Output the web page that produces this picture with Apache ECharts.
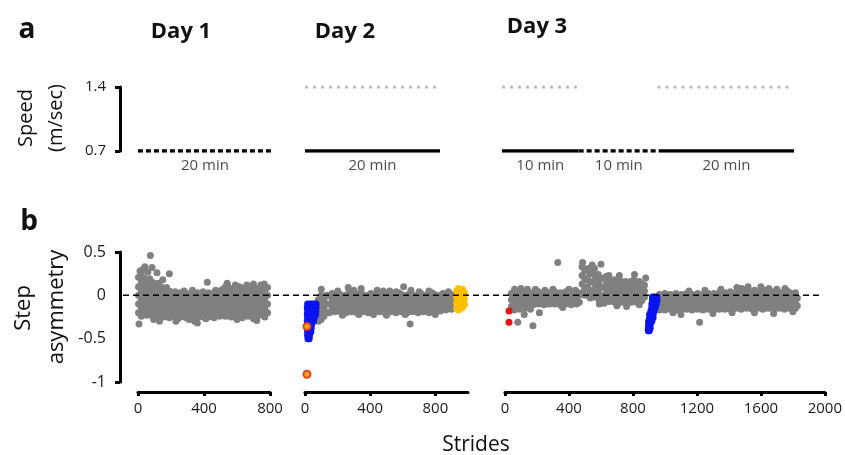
<!DOCTYPE html>
<html>
<head>
<meta charset="utf-8">
<script src="https://cdn.jsdelivr.net/npm/echarts@6/dist/echarts.min.js"></script>
<style>html,body{margin:0;padding:0;background:#fff}#chart{width:845px;height:455px}</style>
</head>
<body>
<div id="chart"></div>
<script>
var FONT = '"Open Sans", sans-serif';

// panel a: belt speed (m/sec), periods in minutes
var speedTicks = [0.7, 1.4];
var slowSpeed = 0.7, fastSpeed = 1.4;
var day1Tied = [[0, 20]];
var day2Slow = [[0, 20]];
var day2Fast = [[0, 20]];
var day3Slow = [[0, 10.5], [21.5, 40]];
var day3Fast = [[0, 11], [21.3, 39.3]];
var day3Tied = [[10.5, 21.5]];
var day1Periods = [[0, 20]], day1PeriodNames = ['20 min'];
var day2Periods = [[0, 20]], day2PeriodNames = ['20 min'];
var day3Periods = [[0, 10.5], [10.5, 21.5], [21.5, 40]], day3PeriodNames = ['10 min', '10 min', '20 min'];

// panel b: step asymmetry, [stride, [values at that stride]]
var asymTicks = [0.5, 0, -0.5, -1];
var zeroRef = 0;
var day1Gray = [
  [3,[0.21,0.1,0,-0.1,-0.2]],[6,[-0.33]],[12,[0.28]],[20,[0.26,0.15,0.05,-0.05,-0.15,-0.24]],
  [30,[0.3]],[37,[0.2,0.1,0.01,-0.1,-0.2]],[42,[0.33]],[54,[0.16,0.05,-0.04,-0.15,-0.23]],[60,[0.27]],
  [71,[0.19,0.1,0,-0.1,-0.19]],[75,[0.46]],[85,[0.32]],[88,[0.15,0.05,-0.05,-0.15,-0.24]],[95,[-0.28]],
  [105,[0.11,0,-0.1,-0.2]],[115,[0.26]],[122,[0.14,0.05,-0.05,-0.15,-0.25]],[130,[-0.3]],
  [139,[0.1,0,-0.1,-0.2]],[150,[0.18]],[156,[0.06,-0.05,-0.15,-0.25]],[173,[0.09,0,-0.1,-0.2]],
  [190,[0.25,0.05,-0.05,-0.15,-0.26]],[207,[0.01,-0.1,-0.2]],[224,[0.04,-0.05,-0.15,-0.25]],[230,[-0.3]],
  [241,[0,-0.1,-0.2,-0.27]],[258,[0.03,-0.05,-0.15,-0.25]],[275,[0,-0.1,-0.2]],[280,[0.05]],
  [292,[0.02,-0.05,-0.15,-0.26]],[309,[0.01,-0.1,-0.2,-0.28]],[326,[-0.05,-0.15,-0.25]],[330,[0.06]],
  [343,[0,-0.1,-0.2,-0.3]],[360,[0.03,-0.05,-0.15,-0.25,-0.32]],[377,[0,-0.1,-0.2]],
  [394,[0.04,-0.05,-0.15,-0.25]],[411,[0.01,-0.1,-0.2,-0.27]],[420,[0.15]],[428,[0.03,-0.05,-0.15,-0.25]],
  [445,[0,-0.1,-0.2]],[462,[0.03,-0.05,-0.15,-0.26]],[470,[0.06]],[479,[0.01,-0.1,-0.2]],
  [496,[0.05,-0.05,-0.15,-0.24]],[513,[0.07,0,-0.1,-0.2]],[530,[0.1,0.05,-0.05,-0.15,-0.24]],[540,[0.14]],
  [547,[0.1,0,-0.1,-0.2]],[564,[0.05,-0.05,-0.15,-0.25]],[581,[0.08,0,-0.1,-0.2]],[590,[0.12]],
  [598,[0.06,-0.05,-0.15,-0.23]],[600,[-0.28]],[615,[0.1,0,-0.1,-0.2]],[632,[0.05,-0.05,-0.15,-0.26]],
  [649,[0.09,0,-0.1,-0.2]],[660,[0.12]],[666,[0.06,-0.05,-0.15,-0.24]],[683,[0.1,0,-0.1,-0.2]],
  [700,[0.13,0.05,-0.05,-0.15,-0.27]],[717,[0.08,0,-0.1,-0.2]],[720,[-0.29]],[734,[0.06,-0.05,-0.15,-0.23]],
  [745,[0.12]],[751,[0.1,0,-0.1,-0.2]],[765,[0.13]],[768,[0.05,-0.05,-0.15,-0.25]],[785,[0.09,0,-0.1,-0.2]]
];
var day2Gray = [
  [82,[-0.05,-0.15,-0.25,-0.3]],[99,[0,-0.1,-0.2,-0.28]],[100,[0.07]],[116,[-0.05,-0.15,-0.24]],
  [133,[0,-0.1,-0.2]],[150,[0,-0.1,-0.2]],[167,[0.02,-0.05,-0.15]],[184,[0,-0.1,-0.19]],
  [201,[0.05,-0.05,-0.15]],[218,[0.01,-0.1,-0.19]],[230,[-0.23]],[235,[-0.05,-0.15]],
  [252,[0,-0.1,-0.2]],[265,[0.09]],[269,[0.03,-0.05,-0.15]],[286,[0,-0.1,-0.19]],
  [300,[0.06]],[303,[-0.05,-0.15]],[320,[0,-0.1,-0.2]],[330,[-0.22]],[337,[0.02,-0.05,-0.15]],
  [345,[0.08]],[354,[0.01,-0.1,-0.19]],[371,[-0.05,-0.15]],[388,[0,-0.1,-0.2]],
  [405,[0.02,-0.05,-0.15]],[420,[-0.22]],[422,[0,-0.1,-0.2]],[439,[0.03,-0.05,-0.15]],[443,[0.06]],
  [456,[0,-0.1,-0.19]],[473,[-0.05,-0.15]],[480,[0.05]],[490,[0.01,-0.1,-0.2]],[500,[-0.23]],
  [507,[0.02,-0.05,-0.15]],[520,[0.05]],[524,[0,-0.1,-0.19]],[541,[-0.05,-0.15]],
  [558,[0,-0.1,-0.2]],[560,[0.04]],[575,[0.03,-0.05,-0.15]],[592,[0.01,-0.1,-0.19]],
  [605,[0.1]],[609,[-0.05,-0.15]],[615,[-0.22]],[626,[0,-0.1,-0.2]],[643,[0.02,-0.05,-0.15]],
  [645,[-0.33]],[650,[0.06]],[660,[0,-0.1,-0.19]],[677,[-0.05,-0.15]],[694,[0.01,-0.1,-0.2]],
  [700,[0.04]],[711,[0.02,-0.05,-0.15]],[728,[0,-0.1,-0.19]],[745,[-0.05,-0.15]],
  [760,[0.05]],[762,[0,-0.1,-0.2]],[779,[0.03,-0.05,-0.15]],[796,[0.01,-0.1,-0.18]],
  [800,[-0.22]],[813,[-0.05,-0.15]],[830,[0,-0.1,-0.18]],[847,[0.02,-0.05,-0.14]],
  [864,[0.01,-0.09,-0.17]],[880,[0.04]],[881,[-0.04,-0.13]],[898,[0.01,-0.08,-0.16]],[915,[-0.03,-0.12]]
];
var day2Blue = [
  [14,[-0.14,-0.22,-0.3,-0.38]],[16,[-0.1,-0.18,-0.26,-0.34,-0.42,-0.46]],[18,[-0.5]],
  [26,[-0.38,-0.5]],[28,[-0.14,-0.22,-0.3,-0.34,-0.42,-0.46]],[30,[-0.1,-0.18,-0.26]],
  [36,[-0.42]],[38,[-0.38]],[40,[-0.34]],[42,[-0.14,-0.22,-0.3]],[44,[-0.1,-0.18,-0.26]],
  [52,[-0.3]],[56,[-0.14,-0.22,-0.26]],[58,[-0.1,-0.18]],[66,[-0.18,-0.22]],[68,[-0.1,-0.14]]
];
var day2Orange = [[12,-0.36],[12,-0.91]];
var day2Yellow = [
  [930,[0.05,-0.02,-0.09,-0.15]],[942,[0.08,0.01,-0.06,-0.13,-0.17]],
  [954,[0.06,-0.01,-0.08,-0.15]],[966,[0.07,0.0,-0.07,-0.14]],[978,[0.03,-0.04,-0.11]]
];
var day3Gray = [
  [40,[0.02,-0.05,-0.13]],[57,[0,-0.09,-0.17]],[60,[0.07]],[74,[0.03,-0.05,-0.13]],[80,[-0.31]],
  [91,[-0.01,-0.09,-0.16]],[100,[0.08]],[108,[0.03,-0.05,-0.12]],[120,[-0.22]],[125,[-0.01,-0.09,-0.15]],
  [140,[0.07]],[142,[0.03,-0.05,-0.11]],[159,[-0.01,-0.09,-0.16]],[175,[-0.35]],[176,[0.03,-0.05,-0.11]],
  [190,[0.07]],[193,[-0.01,-0.09]],[210,[0.04,-0.05,-0.1]],[215,[-0.2]],[227,[-0.01,-0.09]],
  [244,[0.03,-0.05,-0.11]],[250,[0.06]],[261,[0,-0.09]],[278,[0.03,-0.04,-0.1]],[295,[-0.01,-0.09]],
  [300,[0.07]],[312,[0.04,-0.05,-0.1]],[329,[0,-0.08]],[330,[0.38]],[346,[0.03,-0.04,-0.11]],
  [360,[-0.14]],[363,[-0.01,-0.09]],[380,[0.04,-0.05,-0.1]],[397,[0,-0.08]],[400,[0.07]],
  [414,[0.03,-0.04,-0.11]],[431,[-0.01,-0.09]],[440,[0.06]],[448,[0.04,-0.05,-0.1]],[465,[0,-0.08]],
  [482,[0.33,0.23,0.13,0.03]],[485,[0.38]],[499,[0.28,0.18,0.08,0]],[516,[0.3,0.2,0.1,0]],[520,[0.31]],
  [533,[0.25,0.15,0.05,-0.03]],[545,[0.35]],[550,[0.26,0.16,0.06,-0.02]],[560,[0.31]],
  [567,[0.21,0.11,0.01]],[584,[0.24,0.14,0.04,-0.04]],[590,[-0.1]],[600,[0.36]],[601,[0.19,0.09,-0.01]],
  [618,[0.2,0.1,0,-0.06]],[620,[-0.09]],[635,[0.22,0.15,0.05,-0.05]],[650,[0.23]],[652,[0.18,0.1,0,-0.07]],
  [669,[0.15,0.05,-0.05]],[686,[0.18,0.1,0,-0.08]],[700,[-0.12]],[703,[0.15,0.05,-0.05,-0.1]],
  [715,[0.23]],[720,[0.17,0.1,0,-0.08]],[737,[0.15,0.05,-0.05]],[754,[0.16,0.1,0,-0.09]],[760,[-0.13]],
  [771,[0.15,0.05,-0.05]],[788,[0.16,0.1,0,-0.08]],[805,[0.18,0.15,0.05,-0.05]],[810,[0.24]],
  [822,[0.14,0.1,0,-0.08]],[839,[0.16,0.05,-0.05]],[840,[-0.11]],[856,[0.13,0.08,0,-0.06]],
  [872,[0.12,0.05,-0.02]],[880,[0.2]],
  [966,[0.01,-0.08,-0.17]],[983,[-0.03,-0.13]],[1000,[0.02,-0.08,-0.17]],[1017,[-0.03,-0.13]],
  [1034,[0.01,-0.08,-0.16]],[1050,[-0.2]],[1051,[-0.03,-0.13]],[1068,[0.02,-0.08,-0.17]],
  [1085,[-0.03,-0.13]],[1100,[-0.22]],[1102,[0.01,-0.08,-0.17]],[1119,[-0.03,-0.13]],
  [1136,[0.02,-0.08,-0.16]],[1150,[0.05]],[1153,[-0.03,-0.13]],[1170,[0.01,-0.08,-0.17]],
  [1187,[-0.03,-0.13]],[1204,[0.02,-0.08,-0.16]],[1217,[-0.31]],[1221,[-0.03,-0.13]],
  [1238,[0.01,-0.08,-0.17]],[1250,[0.06]],[1255,[-0.03,-0.13]],[1272,[0.02,-0.08,-0.16]],
  [1289,[-0.03,-0.13]],[1300,[-0.21]],[1306,[0.02,-0.08,-0.17]],[1323,[-0.03,-0.13]],
  [1340,[0.03,-0.07,-0.16]],[1350,[0.07]],[1357,[-0.02,-0.12]],[1374,[0.03,-0.07,-0.16]],
  [1391,[-0.02,-0.12]],[1408,[0.04,-0.07,-0.16]],[1420,[-0.2]],[1425,[-0.02,-0.12]],
  [1442,[0.03,-0.07,-0.15]],[1450,[0.09]],[1459,[-0.02,-0.12]],[1476,[0.04,-0.07,-0.16]],
  [1480,[0.08]],[1493,[0.06,-0.02,-0.12]],[1510,[0.03,-0.07,-0.15]],[1520,[0.1]],[1527,[-0.02,-0.12]],
  [1544,[0.04,-0.07,-0.16]],[1560,[-0.2]],[1561,[0.06,-0.02,-0.12]],[1578,[0.03,-0.07,-0.15]],
  [1595,[-0.02,-0.12]],[1600,[0.1]],[1612,[0.04,-0.07,-0.16]],[1629,[0.06,-0.02,-0.12]],
  [1646,[0.03,-0.07,-0.15]],[1650,[0.08]],[1663,[-0.02,-0.12]],[1680,[0.04,-0.07,-0.16,-0.21]],
  [1697,[0.05,-0.02,-0.12]],[1700,[0.07]],[1714,[0.03,-0.07,-0.15]],[1731,[-0.02,-0.12]],
  [1748,[0.04,-0.07,-0.16]],[1750,[0.08]],[1765,[0.05,-0.02,-0.12]],[1782,[0.03,-0.07,-0.15]],
  [1799,[-0.02,-0.12]],[1800,[-0.19]],[1816,[0.03,-0.07,-0.15]],[1828,[-0.03,-0.12]]
];
var day3Red = [[25,-0.18],[25,-0.31]];
var day3Blue = [
  [922,[-0.02,-0.06]],[936,[-0.02,-0.06,-0.1]],[950,[-0.02,-0.06]],[918,[-0.1,-0.14]],[932,[-0.14,-0.18]],
  [946,[-0.1]],[912,[-0.18,-0.22]],[926,[-0.22,-0.26]],[940,[-0.14]],[904,[-0.22,-0.26,-0.3]],
  [918,[-0.26,-0.3]],[898,[-0.3,-0.34]],[908,[-0.34,-0.38]],[896,[-0.38,-0.41]],[902,[-0.41]]
];

function points(cols) {
	var out = [];
	cols.forEach(function (c) {
		c[1].forEach(function (v) { out.push([c[0], v]); });
	});
	return out;
}

var myChart = echarts.init(document.getElementById('chart'));

var labelStyle = {fontFamily: FONT, fontSize: 15, color: '#1a1a1a'};
var slowStyle = {color: '#000', width: 3.5, type: 'solid'};
var tiedStyle = {color: '#000', width: 3.5, type: [5, 3]};
var fastStyle = {color: '#bdbdbd', width: 3, type: [3, 5]};
var axisLineStyle = {show: true, onZero: false, lineStyle: {color: '#000', width: 3}};

function hiddenAxis(grid, min, max) {
	return {gridIndex: grid, type: 'value', min: min, max: max, show: false};
}
function stridesAxis(grid, max, hideMax) {
	return {
		gridIndex: grid, type: 'value', min: 0, max: max, interval: 400, offset: 10,
		axisLine: axisLineStyle,
		axisTick: {show: true, length: 4, lineStyle: {color: '#000', width: 3}},
		axisLabel: Object.assign({margin: 9, showMaxLabel: !hideMax, formatter: function (v) { return String(v); }}, labelStyle),
		splitLine: {show: false}
	};
}
function segments(list, grid, level, style) {
	return list.map(function (p) {
		return {type: 'line', xAxisIndex: grid, yAxisIndex: grid, data: [[p[0], level], [p[1], level]],
			symbol: 'none', silent: true, lineStyle: style};
	});
}
function periodLabels(list, names, grid) {
	return {
		type: 'scatter', xAxisIndex: grid, yAxisIndex: grid, symbolSize: 0, silent: true,
		data: list.map(function (p, i) { return {value: [(p[0] + p[1]) / 2, slowSpeed], name: names[i]}; }),
		label: Object.assign({show: true, position: 'bottom', distance: 7, formatter: '{b}'}, labelStyle)
	};
}
function dots(data, grid, color, size, z, extra) {
	return {type: 'scatter', xAxisIndex: grid, yAxisIndex: grid, data: data, symbolSize: size, silent: true, z: z,
		itemStyle: Object.assign({color: color, opacity: 1}, extra || {})};
}
function txt(x, y, text, font, rot) {
	return {type: 'text', x: x, y: y, rotation: rot || 0, silent: true,
		style: {text: text, font: font, fill: '#111', textAlign: 'center', textVerticalAlign: 'middle'}};
}

var option = {
	animation: false,
	grid: [
		{left: 138, top: 87, width: 134, height: 64},
		{left: 305, top: 87, width: 135, height: 64},
		{left: 502, top: 87, width: 292, height: 64},
		{left: 138, top: 252, width: 132, height: 130},
		{left: 305, top: 252, width: 163, height: 130},
		{left: 505, top: 252, width: 322, height: 130},
		{left: 123, top: 252, width: 700, height: 130}
	],
	xAxis: [
		hiddenAxis(0, 0, 20), hiddenAxis(1, 0, 20), hiddenAxis(2, 0, 40),
		stridesAxis(3, 800), stridesAxis(4, 1000, true), stridesAxis(5, 2000),
		hiddenAxis(6, 0, 1)
	],
	yAxis: [
		{
			gridIndex: 0, type: 'value', min: speedTicks[0], max: speedTicks[1], interval: 0.7, offset: 18,
			axisLine: axisLineStyle,
			axisTick: {show: true, length: 5, lineStyle: {color: '#000', width: 3}},
			axisLabel: Object.assign({margin: 14}, labelStyle),
			splitLine: {show: false}
		},
		hiddenAxis(1, 0.7, 1.4), hiddenAxis(2, 0.7, 1.4),
		{
			gridIndex: 3, type: 'value', min: -1, max: 0.5, interval: 0.5, offset: 18,
			axisLine: axisLineStyle,
			axisTick: {show: true, length: 5, customValues: [-1, 0.5], lineStyle: {color: '#000', width: 3}},
			axisLabel: Object.assign({margin: 14, customValues: asymTicks}, labelStyle, {fontSize: 16}),
			splitLine: {show: false}
		},
		hiddenAxis(4, -1, 0.5), hiddenAxis(5, -1, 0.5), hiddenAxis(6, -1, 0.5)
	],
	series: [].concat(
		segments(day1Tied, 0, slowSpeed, tiedStyle),
		segments(day2Fast, 1, fastSpeed, fastStyle),
		segments(day2Slow, 1, slowSpeed, slowStyle),
		segments(day3Fast, 2, fastSpeed, fastStyle),
		segments(day3Slow, 2, slowSpeed, slowStyle),
		segments(day3Tied, 2, slowSpeed, tiedStyle),
		[periodLabels(day1Periods, day1PeriodNames, 0),
		 periodLabels(day2Periods, day2PeriodNames, 1),
		 periodLabels(day3Periods, day3PeriodNames, 2),
		 dots(points(day1Gray), 3, '#808080', 7, 2),
		 dots(points(day2Gray), 4, '#808080', 7, 2),
		 dots(points(day2Blue), 4, '#0a14f0', 7, 3),
		 dots(points(day2Yellow), 4, '#ffc000', 7, 3),
		 dots(day2Orange, 4, '#f7a21b', 7, 4, {borderColor: '#e2401c', borderWidth: 2}),
		 dots(points(day3Gray), 5, '#808080', 7, 2),
		 dots(points(day3Blue), 5, '#0a14f0', 7, 3),
		 dots(day3Red, 5, '#ee1111', 7, 3),
		 {type: 'line', xAxisIndex: 6, yAxisIndex: 6, data: [[0, zeroRef], [1, zeroRef]], symbol: 'none', silent: true, z: 5,
		  lineStyle: {color: '#000', width: 1.5, type: [6, 4]}}]
	),
	graphic: [
		txt(27, 30, 'a', 'bold 28px ' + FONT),
		txt(29, 222, 'b', 'bold 28px ' + FONT),
		txt(181, 32, 'Day 1', 'bold 22px ' + FONT),
		txt(345, 32, 'Day 2', 'bold 22px ' + FONT),
		txt(537, 27, 'Day 3', 'bold 22px ' + FONT),
		txt(26, 118, 'Speed', '20px ' + FONT, Math.PI / 2),
		txt(56, 118, '(m/sec)', '20px ' + FONT, Math.PI / 2),
		txt(24, 308, 'Step', '22px ' + FONT, Math.PI / 2),
		txt(57, 307, 'asymmetry', '22px ' + FONT, Math.PI / 2),
		txt(476, 445, 'Strides', '21px ' + FONT)
	]
};
myChart.setOption(option);
</script>
</body>
</html>
